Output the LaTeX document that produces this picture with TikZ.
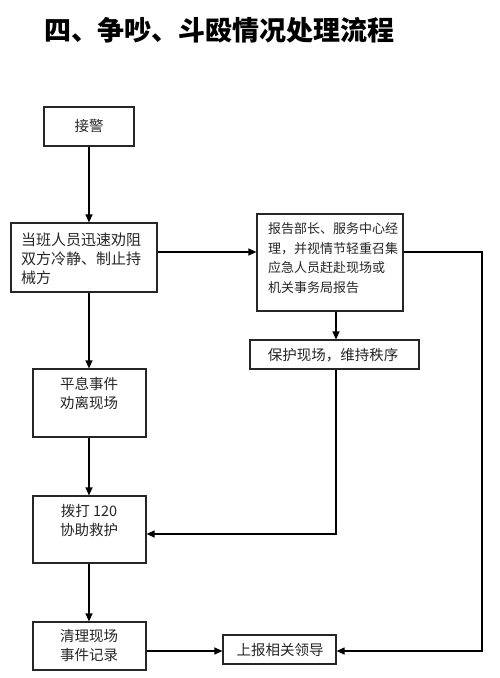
\documentclass[tikz,border=0pt]{standalone}
\usepackage{fontspec}
\newfontfamily\cjk{Noto Sans CJK SC}
\usetikzlibrary{arrows.meta}
\begin{document}
\begin{tikzpicture}[x=1pt,y=-1pt,
  box/.style={draw=black!85, line width=1.2pt, inner sep=0pt, minimum width=#1},
  txt/.style={inner sep=0pt, text=black!85, font=\cjk\fontsize{14.5}{19}\selectfont},
  arr/.style={line width=1.2pt, -{Triangle[length=8pt,width=7pt]}},
  ln/.style={line width=1.2pt}]
\useasboundingbox (0,0) rectangle (500,678);
% title
\node[inner sep=0pt, font=\cjk\bfseries\fontsize{27}{30}\selectfont] (title) at (219.5,30.5) {四、争吵、斗殴情况处理流程};
% boxes
\node[box=90, minimum height=39] (b1) at (89,126.5) {};
\node[box=146, minimum height=69] (b2) at (84,257.5) {};
\node[box=146, minimum height=97] (b3) at (330,262.5) {};
\node[box=169, minimum height=29] (b4) at (334.5,354.5) {};
\node[box=113, minimum height=68] (b5) at (89.5,403) {};
\node[box=113, minimum height=67] (b6) at (89.5,529.5) {};
\node[box=113, minimum height=48] (b7) at (89.5,646) {};
\node[box=113, minimum height=29] (b8) at (279.5,649.5) {};
% texts
\node[txt] (t1) at (89,126) {接警};
\node[txt, anchor=west, align=left, font=\cjk\fontsize{15}{19}\selectfont] (t2) at (21,259) {当班人员迅速劝阻\\双方冷静、制止持\\械方};
\node[txt, anchor=west, align=left, font=\cjk\fontsize{13}{19.5}\selectfont] (t3) at (268,258) {报告部长、服务中心经\\理，并视情节轻重召集\\应急人员赶赴现场或\\机关事务局报告};
\node[txt] (t4) at (333,355) {保护现场，维持秩序};
\node[txt, align=center] (t5) at (89,393.5) {平息事件\\劝离现场};
\node[txt, align=center] (t6) at (89,520.5) {拨打 120\\协助救护};
\node[txt, align=center] (t7) at (89,646) {清理现场\\事件记录};
\node[txt] (t8) at (280,650) {上报相关领导};
% connectors
\coordinate (c1) at (482,252);
\coordinate (c2) at (482,651);
\coordinate (c3) at (336,534);
\draw[arr] (b1.south) -- (b1.south |- b2.north);
\draw[arr] (b2.east |- c1) -- (b3.west |- c1);
\draw[arr] (b3.east |- c1) -- (c1) -- (c2) -- (b8.east |- c2);
\draw[arr] (b3.south -| c3) -- (b4.north -| c3);
\draw[arr] (b4.south -| c3) -- (c3) -- (b6.east |- c3);
\draw[arr] (b2.south -| b1.south) -- (b5.north -| b1.south);
\draw[arr] (b5.south -| b1.south) -- (b6.north -| b1.south);
\draw[arr] (b6.south -| b1.south) -- (b7.north -| b1.south);
\draw[arr] (b7.east |- c2) -- (b8.west |- c2);
\end{tikzpicture}
\end{document}
